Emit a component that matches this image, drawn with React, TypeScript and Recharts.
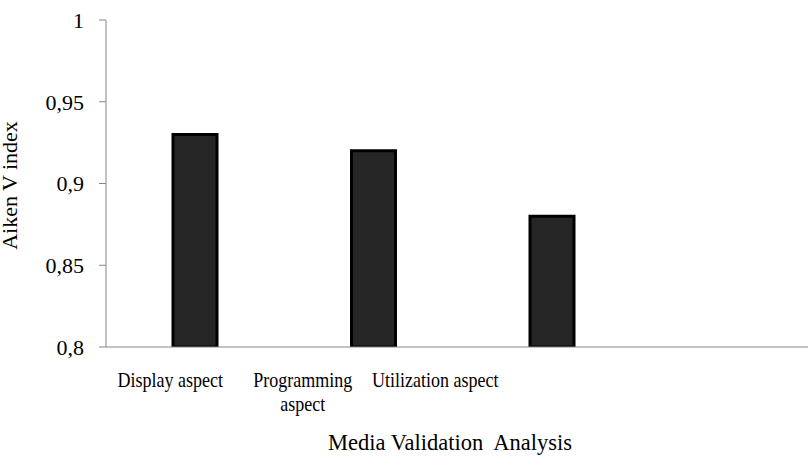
import { BarChart, Bar, XAxis, YAxis } from "recharts";

const categories = ["Display aspect", "Programming aspect", "Utilization aspect", ""];
const aikenV = [0.93, 0.92, 0.88, null];
const yTicks = [0.8, 0.85, 0.9, 0.95, 1];

const data = categories.map((name, i) => ({ name, value: aikenV[i] }));

const FONT = "Liberation Serif";
const AXIS = "#868686";

// Excel put the category labels left of their bars, drifting further each step
const CategoryTick = (props: any) => {
  const { x, y, payload, index } = props;
  const words: string[] = payload.value === "Programming aspect" ? ["Programming", "aspect"] : [payload.value];
  const cx = x - 25 - 46 * index;
  return (
    <g transform={`translate(${cx},${y + 40}) scale(0.9,1)`}>
      {words.map((w, i) => (
        <text key={i} x={0} y={i * 24} textAnchor="middle" fontFamily={FONT} fontSize={20} fill="#000">
          {w}
        </text>
      ))}
    </g>
  );
};

const YTitle = (props: any) => {
  const { viewBox } = props;
  const x = 17;
  const y = viewBox.y + viewBox.height / 2 + 2;
  return (
    <text x={x} y={y} transform={`rotate(-90,${x},${y})`} textAnchor="middle" fontFamily={FONT} fontSize={22} fill="#000">
      Aiken V index
    </text>
  );
};

const XTitle = (props: any) => {
  const { viewBox } = props;
  const x = viewBox.x + viewBox.width / 2 - 13;
  return (
    <text x={x} y={450} textAnchor="middle" fontFamily={FONT} fontSize={22.5} fill="#000" style={{ whiteSpace: "pre" }}>
      {"Media Validation  Analysis"}
    </text>
  );
};

export default function App() {
  return (
    <div style={{ position: "fixed", left: 0, top: 0, width: 808, height: 457, overflow: "hidden", background: "#fff" }}>
      <BarChart width={820} height={457} data={data} margin={{ top: 20, right: 0, bottom: 0, left: 0 }}>
        <XAxis
          dataKey="name"
          height={110}
          stroke={AXIS}
          tickLine={false}
          tickSize={0}
          tickMargin={0}
          interval={0}
          tick={<CategoryTick />}
          label={<XTitle />}
        />
        <YAxis
          width={106}
          domain={[0.8, 1]}
          ticks={yTicks}
          allowDataOverflow
          stroke={AXIS}
          tickSize={7}
          tickMargin={15}
          tick={{ fill: "#000", fontSize: 22, fontFamily: FONT }}
          tickFormatter={(v: number) => String(v).replace(".", ",")}
          label={<YTitle />}
        />
        <Bar dataKey="value" barSize={44} fill="#262626" stroke="#000" strokeWidth={3} isAnimationActive={false} />
      </BarChart>
    </div>
  );
}
